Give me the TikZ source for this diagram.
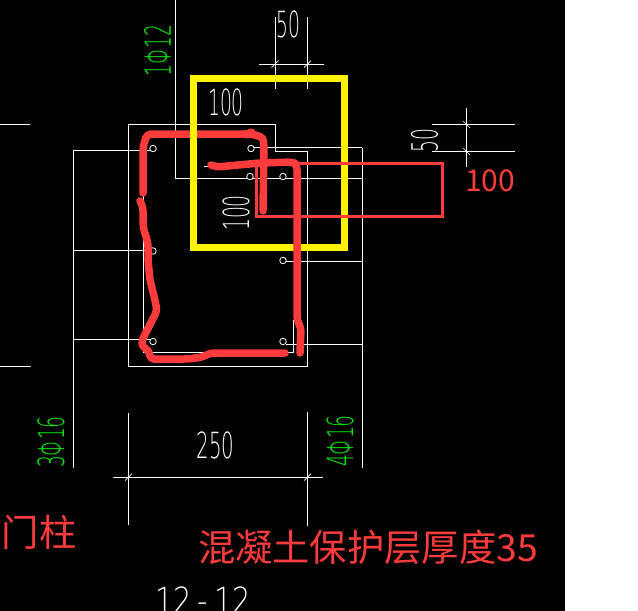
\documentclass[tikz,border=0pt]{standalone}
\usepackage{fontspec}
\usepackage{graphicx}
\newfontfamily\cjk{Noto Sans CJK SC}
\newfontfamily\cadfont{DejaVu Sans ExtraLight}
\newcommand{\cadtxt}[2][0.52]{\scalebox{#1}[1]{\cadfont #2}}
\definecolor{markred}{HTML}{FF3B3B}
\definecolor{cadgreen}{HTML}{00F000}

\begin{document}
\begin{tikzpicture}[
        x=1pt, y=-1pt,
        cad/.style={draw=white, line width=1pt},
        bar/.style={draw=white, circle, line width=0.8pt, fill=black, inner sep=0pt, minimum size=6.5pt},
        dimtext/.style={text=white, inner sep=0pt, font=\fontsize{36}{36}\selectfont},
        bartext/.style={text=cadgreen, inner sep=0pt, rotate=90, font=\fontsize{36}{36}\selectfont},
        pen/.style={draw=markred, line width=7.5pt, line cap=round, line join=round, rounded corners=4pt},
        note/.style={text=markred, inner sep=0pt, font=\cjk\fontsize{37.3}{37.3}\selectfont}
    ]

    \useasboundingbox (0,0) rectangle (638,611);
    \fill[white] (0,0) rectangle (638,611);
    \fill[black] (0,0) rectangle (565,611);

    \draw[cad] (128.5,124.5) -- (275,124.5) -- (275,151) -- (307.5,151) -- (307.5,366) -- (128.5,366) -- cycle;
    \draw[cad] (143,150) -- (143,352) -- (293,352) -- (293,320);
    \draw[cad] (175,0) -- (175,178.5) -- (362,178.5);
    \draw[cad] (253,147.5) -- (362,147.5);
    \draw[cad] (362,147.5) -- (362,468);
    \draw[cad] (73.5,468) -- (73.5,150.5) -- (150,150.5);
    \draw[cad] (73.5,250.5) -- (150,250.5);
    \draw[cad] (73.5,339.5) -- (150,339.5);
    \draw[cad] (286,261) -- (362,261);
    \draw[cad] (286,344.5) -- (362,344.5);
    \draw[cad] (0,124.5) -- (30,124.5);
    \draw[cad] (0,366) -- (31,366);
    \draw[cad] (204,166) -- (211,166);

    \draw[cad] (275,17) -- (275,89);
    \draw[cad] (307.5,17) -- (307.5,89);
    \draw[cad] (259,64) -- (324,64);
    \draw[cad] (432,124.5) -- (515,124.5);
    \draw[cad] (432,151.5) -- (515,151.5);
    \draw[cad] (466.5,108) -- (466.5,167);
    \draw[cad] (128.5,413) -- (128.5,525);
    \draw[cad] (307.5,412) -- (307.5,526);
    \draw[cad] (113,477) -- (322.5,477);
    \foreach \tx/\ty in {275/64, 307.5/64, 128.5/477, 307.5/477}
        \draw[white, line width=0.7pt] (\tx-3.5,\ty+3.5) -- (\tx+3.5,\ty-3.5);
    \foreach \tx/\ty in {466.5/124.5, 466.5/151.5}
        \draw[white, line width=0.7pt] (\tx-3.5,\ty-3.5) -- (\tx+3.5,\ty+3.5);

    \node[bar] (b1) at (153,148.5) {};
    \node[bar] (b2) at (251,148.5) {};
    \node[bar] (b3) at (250,176.5) {};
    \node[bar] (b4) at (283,176.5) {};
    \node[bar] (b5) at (153,251) {};
    \node[bar] (b6) at (283,260.5) {};
    \node[bar] (b7) at (153,341.5) {};
    \node[bar] (b8) at (283,341.5) {};

    \node[dimtext] (t50a) at (288.5,24.5) {\cadtxt{50}};
    \node[dimtext] (t100a) at (226,102) {\cadtxt{100}};
    \node[dimtext, rotate=90] (t100b) at (236,213) {\cadtxt{100}};
    \node[dimtext, rotate=90] (t50b) at (424.5,140.5) {\cadtxt{50}};
    \node[dimtext] (t250) at (215.5,445.5) {\cadtxt[0.55]{250}};
    \node[dimtext] (tsec) at (203,600) {\cadtxt[0.8]{12\hspace{7.5pt}-\hspace{7.5pt}12}};
    \node[bartext] (g1) at (157.5,50.5) {\cadtxt{1Φ12}};
    \node[bartext] (g2) at (51,442) {\cadtxt{3Φ16}};
    \node[bartext] (g3) at (340,441) {\cadtxt{4Φ16}};

    \draw[pen] (143,193) -- (143,147) -- (147,134) -- (248,134) -- (250,133) -- (254,135) -- (263,137) -- (264,146) -- (263,211);
    \draw[pen] (140,201) -- (143,207) -- (143,227) -- (148,243) -- (148,260) -- (150,280) -- (155,300) -- (157,311) -- (142,340) -- (142,347) -- (149,350) -- (150,359) -- (188,359) -- (203,357) -- (210,353) -- (285,353);

    \draw[yellow, line width=7pt] (193.5,78.5) rectangle (344.5,247);

    \draw[markred, line width=3pt] (256,163.5) rectangle (442,216);
    \draw[pen] (211,165) -- (217,167) -- (260,163) -- (293,162) -- (297,165) -- (297,320) -- (301,328) -- (300,353);

    \node[note, font=\cjk\fontsize{30}{30}\selectfont] (n100) at (490,181) {100};
    \node[note] (nmen) at (39,532) {门柱};
    \node[note] (ncov) at (368,547) {混凝土保护层厚度35};
\end{tikzpicture}
\end{document}
